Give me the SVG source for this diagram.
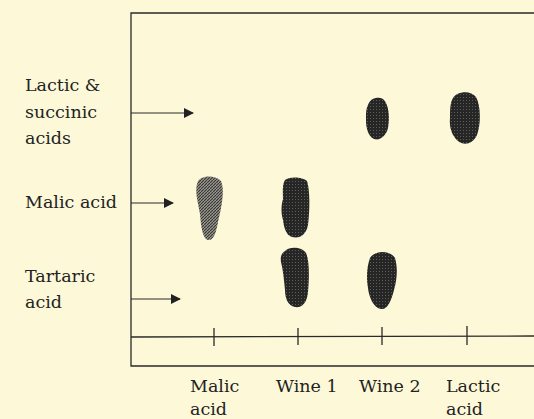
<svg xmlns="http://www.w3.org/2000/svg" width="534" height="419" viewBox="0 0 534 419">
<defs>
<pattern id="grid" width="3" height="3" patternUnits="userSpaceOnUse">
<rect width="3" height="3" fill="#262626"/>
<rect x="1" y="1" width="1" height="1" fill="#5e5e58"/>
</pattern>
<pattern id="hatch" width="3" height="3" patternUnits="userSpaceOnUse">
<rect width="3" height="3" fill="#9a988c"/>
<path d="M0,3 L3,0" stroke="#333" stroke-width="1.1"/>
</pattern>
<marker id="ah" viewBox="0 0 10 10" refX="9" refY="5" markerWidth="10" markerHeight="10" markerUnits="userSpaceOnUse" orient="auto">
<path d="M0,0 L10,5 L0,10 Z" fill="#222"/>
</marker>
<style>
text{font-family:"DejaVu Serif","Liberation Serif",serif;font-size:17.5px;fill:#222;}
.ln{stroke:#2a2a2a;stroke-width:1.3;fill:none;}
.arr{stroke:#2a2a2a;stroke-width:1.2;fill:none;marker-end:url(#ah);}
.spot{fill:url(#grid);}
</style>
</defs>
<rect width="534" height="419" fill="#fdf9d8"/>
<g id="frame">
<path class="ln" d="M534,13 L131,13 L131,366 L534,366"/>
<path class="ln" d="M131,337 L534,336"/>
<path class="ln" d="M214,328 V346 M298,328 V345 M382,327 V345 M467,326 V345"/>
</g>
<g id="connectors">
<path class="arr" d="M131,113 H193"/>
<path class="arr" d="M131,203 H173"/>
<path class="arr" d="M131,299 H180"/>
</g>
<g id="labels-left">
<text x="25" y="91">Lactic &amp;</text>
<text x="25" y="118">succinic</text>
<text x="25" y="144">acids</text>
<text x="25" y="208">Malic acid</text>
<text x="25" y="282">Tartaric</text>
<text x="25" y="308">acid</text>
</g>
<g id="labels-bottom">
<text x="190" y="392">Malic</text>
<text x="190" y="415">acid</text>
<text x="276" y="392">Wine 1</text>
<text x="359" y="392">Wine 2</text>
<text x="446" y="392">Lactic</text>
<text x="446" y="415">acid</text>
</g>
<g id="spot-malic">
<path d="M198,181 C202,175 216,175 221,181 C225,190 222,205 218,222 C216,234 213,241 208,240 C203,239 201,228 200,214 C198,202 194,190 198,181 Z" fill="url(#hatch)"/>
</g>
<g id="spot-wine1-malic">
<path class="spot" d="M285,180 C290,176 303,177 307,181 C310,190 310,210 308,225 C306,235 300,239 292,237 C286,235 284,228 283,220 C281,214 281,205 283,199 C283,192 282,185 285,180 Z"/>
</g>
<g id="spot-wine1-tartaric">
<path class="spot" d="M285,251 C290,246 302,247 306,253 C310,262 309,280 308,292 C307,303 302,308 295,307 C288,306 285,298 285,290 C284,280 283,270 281,262 C280,256 282,253 285,251 Z"/>
</g>
<g id="spot-wine2-tartaric">
<path class="spot" d="M370,258 C375,250 390,250 395,258 C398,268 397,280 394,290 C391,302 387,310 381,309 C374,308 369,298 368,288 C366,278 367,266 370,258 Z"/>
</g>
<g id="spot-wine2-lactic">
<path class="spot" d="M368,105 C370,98 378,96 383,99 C389,104 390,118 388,128 C386,136 380,141 374,139 C368,136 366,128 366,120 C366,113 366,109 368,105 Z"/>
</g>
<g id="spot-lactic">
<path class="spot" d="M453,98 C457,91 471,90 476,97 C481,106 481,125 477,135 C473,144 464,146 458,141 C452,136 449,127 450,118 C450,110 450,103 453,98 Z"/>
</g>
</svg>
